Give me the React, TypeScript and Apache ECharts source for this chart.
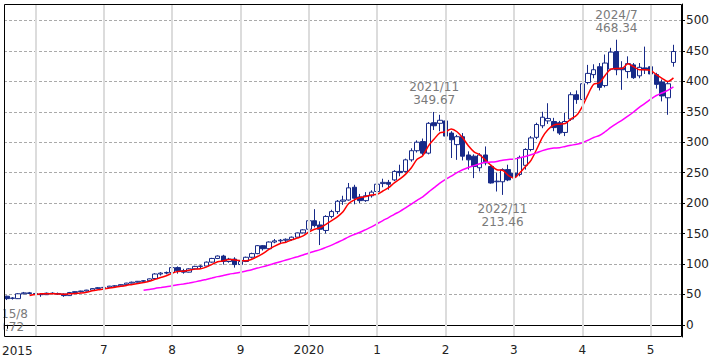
import React, { useEffect, useRef } from "react";
import * as echarts from "echarts";

// ---- categories: monthly, 2015/8 .. 2025/6 (last slot is empty) ----
const START_YEAR = 2015;
const START_MONTH = 8;
const SLOT_COUNT = 119;
const months: string[] = [];
for (let k = 0; k < SLOT_COUNT; k++) {
  const m = START_MONTH - 1 + k;
  months.push(`${START_YEAR + Math.floor(m / 12)}/${(m % 12) + 1}`);
}

// ---- OHLC values ----
const opens = [
  47, 44, 43, 51, 52.5, 51.5, 50, 49.5, 52, 51.5, 50.5, 48, 53, 54.5, 55.5, 57, 59.5, 61, 61.5, 63.5,
  64, 66, 68.5, 70, 71.5, 72.5, 76, 83.5, 85, 86, 94, 89, 86.5, 92, 96, 96.5, 103, 109, 113, 104,
  108, 99, 104, 111, 117, 130, 125, 136, 138, 139, 140, 144, 151, 157, 171, 164, 155, 178, 186, 203,
  205, 226, 210, 204, 212, 219, 232, 234, 238, 252, 252, 271, 286, 301, 282, 332, 331, 335, 315, 296,
  309, 279, 277, 258, 279, 260, 235, 235, 255, 249, 247, 262, 288, 308, 327, 335, 334, 332, 316, 338,
  378, 370, 398, 411, 424, 393, 420, 449, 422, 416, 427, 409, 422, 424, 411, 399, 373, 431,
];
const highs = [
  48, 45.5, 52, 54, 54, 53, 52, 53, 53.5, 53, 51.5, 54, 55, 56, 57.5, 60, 62, 62.5, 64, 65,
  66.5, 69, 71, 72, 73.5, 76, 85, 86.5, 87.5, 95, 96, 92, 93, 97, 98, 104, 110, 114, 115, 110,
  111, 106, 112, 118.5, 131, 131, 137, 141, 141, 142, 145, 151.5, 157, 173, 190, 170, 180, 189, 205, 212,
  233, 230, 215, 218, 221, 234, 240, 238, 254, 263, 273, 290, 303, 306, 333, 349.67, 345, 337, 318, 312,
  315, 285, 280, 282, 293, 262, 250, 257, 263, 251, 278, 290, 310, 332, 350, 364, 340, 335, 348, 382,
  385, 400, 427, 428, 430, 444, 455, 468.34, 433, 441, 430, 430, 457, 449, 414, 403, 399, 460,
];
const lows = [
  40.72, 41.5, 42.5, 50, 50.5, 47, 46, 49, 50, 49, 46, 47.5, 52, 53, 55, 55.5, 59, 60, 61, 62.5,
  63, 65.5, 68, 69.5, 70, 72, 75.5, 81, 83, 85.5, 84, 84, 86, 91, 93, 96, 102, 108, 99, 102,
  94, 97, 103, 109, 116, 122, 124, 134, 133, 136, 138, 143.5, 150, 156, 160, 131, 150, 175, 182, 197,
  204, 198, 200, 202, 209, 216, 226, 222, 236, 244, 250, 268, 283, 279, 280, 320, 318, 274, 274, 271,
  270, 255, 241, 252, 262, 232, 219, 213.46, 236, 219, 244, 255, 285, 305, 323, 330, 318, 312, 310, 335,
  363, 362, 395, 405, 385, 390, 418, 410, 386, 405, 404, 405, 412, 408, 388, 367, 345, 424,
];
const closes = [
  43, 43.5, 51, 52.5, 51.5, 50, 49.5, 52, 51.5, 50.5, 48, 53, 54.5, 55.5, 57, 59.5, 61, 61.5, 63.5, 64,
  66, 68.5, 70, 71.5, 72.5, 75.5, 83.5, 85, 86, 94, 89, 86.5, 92, 96, 96.5, 103, 109, 113, 104, 108,
  99, 104, 111, 117, 130, 125, 136, 138, 139, 140.5, 144, 151, 156, 171, 163, 157, 178, 186, 203, 205,
  225, 208, 204, 212, 218, 231, 234, 231, 252, 250, 271, 286, 300, 282, 331, 327, 336, 310, 304, 309,
  277, 271, 260, 279, 266, 233, 236, 255, 238, 243, 275, 288, 307, 329, 341, 339, 324, 315, 334, 378,
  370, 396, 413, 419, 390, 430, 448, 419, 419, 429, 406, 423, 419, 412, 395, 376, 396, 449,
];

// ---- axes / annotations ----
const yTicks = [0, 50, 100, 150, 200, 250, 300, 350, 400, 450, 500];
const yearLines = ["2016/1", "2017/1", "2018/1", "2019/1", "2020/1", "2021/1", "2022/1", "2023/1", "2024/1", "2025/1"];
const firstLabel = "2015";
const xLabels: Record<string, string> = {
  "2015/8": "",
  "2017/1": "7",
  "2018/1": "8",
  "2019/1": "9",
  "2020/1": "2020",
  "2021/1": "1",
  "2022/1": "2",
  "2023/1": "3",
  "2024/1": "4",
  "2025/1": "5",
};
const annotations = [
  { date: "2015/8", kind: "low" },
  { date: "2021/11", kind: "high" },
  { date: "2022/11", kind: "low" },
  { date: "2024/7", kind: "high" },
];
const MA_SHORT = 5;
const MA_LONG = 25;

function movingAverage(n: number): (number | string)[] {
  return closes.map((_, i) => {
    if (i < n - 1) return "-";
    let s = 0;
    for (let k = i - n + 1; k <= i; k++) s += closes[k];
    return +(s / n).toFixed(2);
  });
}

const FONT = "DejaVu Sans";
const NAVY = "#172a88";

export default function App() {
  const ref = useRef<HTMLDivElement>(null);
  useEffect(() => {
    if (!ref.current) return;
    const chart = echarts.init(ref.current, undefined, { renderer: "svg" });
    const candles = opens.map((o, i) => [o, closes[i], lows[i], highs[i]]);
    const markData = annotations.map((a) => {
      const idx = months.indexOf(a.date);
      const v = a.kind === "high" ? highs[idx] : lows[idx];
      return {
        coord: [a.date, v],
        value: v,
        label: {
          position: a.kind === "high" ? "top" : "bottom",
          distance: a.kind === "high" ? 5 : 7,
          formatter: `${a.date}\n${v.toFixed(2)}`,
        },
      };
    });
    chart.setOption({
      animation: false,
      grid: { left: 4, right: 38, top: 4, bottom: 23, show: false, containLabel: false, outerBoundsMode: "none" },
      xAxis: {
        type: "category",
        data: months,
        boundaryGap: true,
        axisLine: { show: true, lineStyle: { color: "#000" } },
        axisTick: {
          show: true,
          alignWithLabel: true,
          length: 4,
          interval: (_i: number, v: string) => v in xLabels,
          lineStyle: { color: "#000" },
        },
        axisLabel: {
          interval: (_i: number, v: string) => v in xLabels,
          formatter: (v: string) => xLabels[v] ?? "",
          color: "#222",
          fontSize: 12,
          fontFamily: FONT,
          margin: 7,
          hideOverlap: false,
        },
        splitLine: { show: false },
      },
      yAxis: {
        type: "value",
        position: "right",
        min: -20,
        max: 527,
        axisLine: { show: true, lineStyle: { color: "#000" } },
        axisTick: { show: true, length: 3, customValues: yTicks, lineStyle: { color: "#000" } },
        axisLabel: { customValues: yTicks, color: "#222", fontSize: 12, fontFamily: FONT, margin: 4 },
        splitLine: { show: true, lineStyle: { color: "#aaa", type: [3, 2], width: 1 } },
      },
      series: [
        {
          type: "line",
          data: months.map(() => "-"),
          z: 1,
          silent: true,
          markLine: {
            symbol: ["none", "none"],
            silent: true,
            label: { show: false },
            lineStyle: { color: "#dcdcdc", width: 2, type: "solid" },
            data: yearLines.map((d) => ({ xAxis: d })),
          },
        },
        {
          type: "candlestick",
          data: candles,
          barWidth: 5,
          z: 3,
          itemStyle: {
            color: "#ffffff",
            color0: NAVY,
            borderColor: NAVY,
            borderColor0: NAVY,
            borderWidth: 1,
          },
          markPoint: {
            symbol: "circle",
            symbolSize: 1,
            itemStyle: { color: "rgba(0,0,0,0)" },
            label: { show: true, color: "#7a7a7a", fontSize: 12, fontFamily: FONT, lineHeight: 13 },
            data: markData,
          },
        },
        {
          type: "line",
          data: movingAverage(MA_SHORT),
          symbol: "none",
          smooth: 0.3,
          z: 4,
          lineStyle: { color: "#ff0000", width: 1.5 },
        },
        {
          type: "line",
          data: movingAverage(MA_LONG),
          symbol: "none",
          smooth: 0.3,
          z: 4,
          lineStyle: { color: "#ff00ff", width: 1.5 },
        },
      ],
      graphic: [
        { type: "rect", z: 100, shape: { x: 0, y: 0, width: 3.5, height: 340 }, style: { fill: "#fff" } },
        {
          type: "rect",
          z: 101,
          shape: { x: 4.5, y: 4.5, width: 677, height: 332 },
          style: { fill: "none", stroke: "#000", lineWidth: 1 },
        },
        {
          type: "text",
          z: 101,
          x: 2,
          y: 345,
          style: { text: firstLabel, fill: "#222", font: `12px '${FONT}'`, textVerticalAlign: "top" },
        },
      ],
    });
    return () => chart.dispose();
  }, []);
  return (
    <div
      ref={ref}
      style={{ position: "fixed", left: 0, top: 0, width: 720, height: 360, background: "#fff" }}
    />
  );
}
